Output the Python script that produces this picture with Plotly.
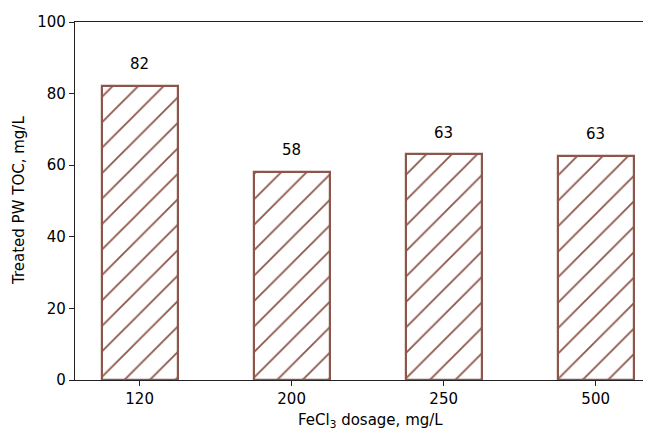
import plotly.graph_objects as go

categories = ["120", "200", "250", "500"]
toc_values = [82.2, 58.2, 63.1, 62.7]
value_labels = ["82", "58", "63", "63"]
y_ticks = [0, 20, 40, 60, 80, 100]

brown = "#8c564b"
font = dict(family="DejaVu Sans", size=15, color="#000000")

# The page body has an 8px default margin, so the figure is sized/offset to compensate.
W, H = 643, 421
ML, MT, MB, MR = 67, 14, 49, 0
PW, PH = W - ML - MR, H - MT - MB

fig = go.Figure()
fig.add_trace(go.Bar(
    x=list(range(len(categories))),
    y=toc_values,
    width=0.5,
    marker=dict(
        color="white",
        line=dict(color=brown, width=2.2),
        pattern=dict(shape="/", fgcolor=brown, fgopacity=1, bgcolor="white", size=18, solidity=0.1),
    ),
    showlegend=False,
))

for i, (v, lab) in enumerate(zip(toc_values, value_labels)):
    fig.add_annotation(x=i, y=v + 6, text=lab, showarrow=False,
                       yanchor="middle", xanchor="center", font=font)

fig.add_annotation(xref="paper", yref="paper", x=(370 - 75) / PW, y=-(420 - 380) / PH,
                   text="FeCl<sub>3</sub> dosage, mg/L", showarrow=False,
                   xanchor="center", yanchor="middle", font=font)
fig.add_annotation(xref="paper", yref="paper", x=-(75 - 19) / PW, y=0.5,
                   text="Treated PW TOC, mg/L", showarrow=False, textangle=-90,
                   xanchor="center", yanchor="middle", font=font)

fig.update_layout(
    width=W, height=H,
    margin=dict(l=ML, r=MR, t=MT, b=MB, autoexpand=False),
    plot_bgcolor="white", paper_bgcolor="white",
    font=font,
    bargap=0,
)
fig.update_xaxes(
    range=[-0.425, 3.364], automargin=False,
    tickmode="array", tickvals=list(range(len(categories))), ticktext=categories,
    ticks="outside", ticklen=5, tickwidth=1.2, tickcolor="#222",
    showline=True, linecolor="#222", linewidth=1.2, mirror=True,
    showgrid=False, zeroline=False,
)
fig.update_yaxes(
    range=[0, 100], automargin=False,
    tickmode="array", tickvals=y_ticks,
    ticks="outside", ticklen=5, tickwidth=1.2, tickcolor="#222",
    showline=True, linecolor="#222", linewidth=1.2, mirror=False,
    showgrid=False, zeroline=False,
)

fig.write_html("out.html")
